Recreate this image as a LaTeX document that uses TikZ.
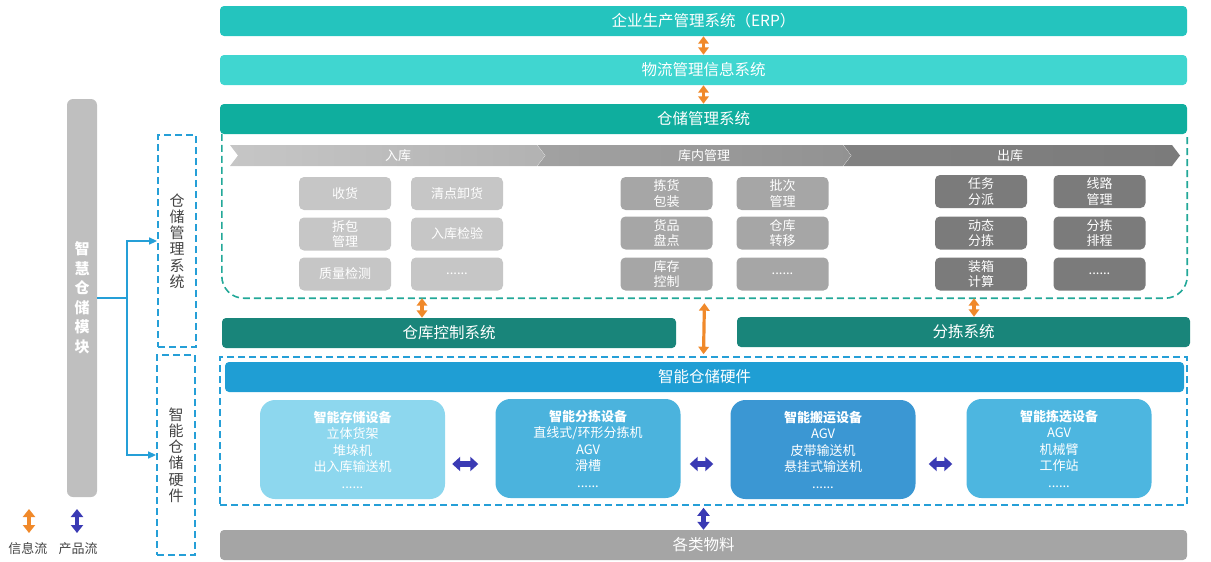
\documentclass[tikz,border=0pt]{standalone}
\usepackage{fontspec}
\setmainfont{Noto Sans CJK SC}
\usetikzlibrary{arrows.meta,calc}
\definecolor{cErp}{HTML}{24C4BE}
\definecolor{cLis}{HTML}{40D6D0}
\definecolor{cWms}{HTML}{0FAE9E}
\definecolor{cCtl}{HTML}{19857A}
\definecolor{cGd}{HTML}{22A898}
\definecolor{cBl}{HTML}{259FD7}
\definecolor{cHw}{HTML}{1F9ED4}
\definecolor{cH1}{HTML}{8DD7EE}
\definecolor{cH2}{HTML}{4BB3DD}
\definecolor{cH3}{HTML}{3B97D3}
\definecolor{cH4}{HTML}{4DB6E0}
\definecolor{cMat}{HTML}{A5A5A5}
\definecolor{cLbar}{HTML}{BFBFBF}
\definecolor{cOr}{HTML}{F0892A}
\definecolor{cInd}{HTML}{3A3AB4}
\definecolor{cS1}{HTML}{C6C6C6}
\definecolor{cS2}{HTML}{A6A6A6}
\definecolor{cS3}{HTML}{7B7B7B}
\definecolor{cTxt}{HTML}{444444}
\newcommand{\fsbar}{\fontsize{15.5}{18}\selectfont}
\newcommand{\fssmall}{\fontsize{13}{15.5}\selectfont}
\newcommand{\fshw}{\fontsize{13}{16.5}\selectfont}
\newcommand{\fsvert}{\fontsize{15}{16.2}\selectfont}
\begin{document}
\begin{tikzpicture}[x=1pt,y=-1pt,
  bar/.style={rectangle, rounded corners=4pt, inner sep=0pt, text=white, font=\fsbar},
  sbox/.style={rectangle, rounded corners=5pt, minimum width=92pt, minimum height=33pt, inner sep=0pt, text=white, align=center, font=\fssmall},
  hwb/.style={rectangle, rounded corners=15pt, minimum width=185pt, minimum height=99pt, inner sep=0pt, text=white, align=center, font=\fshw},
  chevtxt/.style={text=white, font=\fssmall, inner sep=0pt},
  oarr/.style={draw=cOr, line width=3.2pt, {Triangle[width=10.5pt,length=7.5pt]}-{Triangle[width=10.5pt,length=7.5pt]}},
  oleg/.style={draw=cOr, line width=4.5pt, {Triangle[width=12pt,length=8pt]}-{Triangle[width=12pt,length=8pt]}},
  barr/.style={draw=cInd, line width=5.5pt, {Triangle[width=14pt,length=8pt]}-{Triangle[width=14pt,length=8pt]}},
  conn/.style={draw=cBl, line width=1.5pt},
  gdash/.style={draw=cGd, line width=1.6pt, dash pattern=on 7pt off 4pt},
  bdash/.style={draw=cBl, line width=1.6pt, dash pattern=on 7pt off 4pt},
  dbox/.style={rectangle, draw=cBl, line width=1.8pt, dash pattern=on 7pt off 4pt, inner sep=0pt, align=center, text=cTxt, font=\fsvert},
  legtxt/.style={text=cTxt, font=\fssmall, inner sep=0pt}
]
\useasboundingbox (0,0) rectangle (1211,562);

% ---- left side ----
\node[rectangle, rounded corners=6pt, fill=cLbar, minimum width=30pt, minimum height=398pt, inner sep=0pt,
      text=white, align=center, font=\fontsize{15}{19.5}\selectfont\bfseries] (lbar) at (82,298)
      {智\\慧\\仓\\储\\模\\块};
\node[dbox, minimum width=38pt, minimum height=212pt] (dA) at (177,241) {仓\\储\\管\\理\\系\\统};
\node[dbox, minimum width=38pt, minimum height=200pt] (dB) at (176,455) {智\\能\\仓\\储\\硬\\件};
\coordinate (j) at (127,298);
\draw[conn] (lbar.east) -- (j);
\draw[conn, -{Triangle[width=7pt,length=8pt]}] (j) |- (dA.west);
\draw[conn, -{Triangle[width=7pt,length=8pt]}] (j) |- (dB.west);

% legend
\coordinate (lo1) at (29,509); \coordinate (lo2) at (29,533);
\coordinate (lb1) at (77,509); \coordinate (lb2) at (77,533);
\draw[oleg] (lo1) -- (lo2);
\draw[barr, line width=4.5pt, {Triangle[width=12pt,length=8pt]}-{Triangle[width=12pt,length=8pt]}] (lb1) -- (lb2);
\node[legtxt] (lgo) at (28,549) {信息流};
\node[legtxt] (lgb) at (78,549) {产品流};

% ---- WMS dashed area ----
\node[minimum width=965pt, minimum height=164pt, inner sep=0pt] (wmsarea) at (704.5,216) {};
\draw[gdash, rounded corners=22pt] (wmsarea.north west) -- (wmsarea.south west) -- (wmsarea.south east) -- (wmsarea.north east);

% ---- top bars ----
\node[bar, fill=cErp, minimum width=967pt, minimum height=30pt] (erp) at (703.5,21) {企业生产管理系统（ERP）};
\node[bar, fill=cLis, minimum width=967pt, minimum height=30pt] (lis) at (703.5,70) {物流管理信息系统};
\node[bar, fill=cWms, minimum width=967pt, minimum height=30pt] (wms) at (703.5,119) {仓储管理系统};
\draw[oarr] (erp.south) -- (lis.north);
\draw[oarr] (lis.south) -- (wms.north);

% ---- chevrons ----
\shade[left color=cS1, right color=cS1!90!black] (230,145) -- (537,145) -- (545,155.5) -- (537,166) -- (230,166) -- (238,155.5) -- cycle;
\shade[left color=cS2!105, right color=cS2!88!black] (537.5,145) -- (843,145) -- (851,155.5) -- (843,166) -- (537.5,166) -- (545.5,155.5) -- cycle;
\shade[left color=cS3!95!white, right color=cS3] (843.5,145) -- (1172,145) -- (1180,155.5) -- (1172,166) -- (843.5,166) -- (851.5,155.5) -- cycle;
\node[chevtxt] (c1) at (398,155.5) {入库};
\node[chevtxt] (c2) at (704,155.5) {库内管理};
\node[chevtxt] (c3) at (1010,155.5) {出库};

% ---- small boxes ----
\node[sbox, fill=cS1] (a1) at (345,193.5) {收货};
\node[sbox, fill=cS1] (a2) at (457,193.5) {清点卸货};
\node[sbox, fill=cS1] (a3) at (345,234) {拆包\\管理};
\node[sbox, fill=cS1] (a4) at (457,234) {入库检验};
\node[sbox, fill=cS1] (a5) at (345,274) {质量检测};
\node[sbox, fill=cS1] (a6) at (457,274) {......};

\node[sbox, fill=cS2] (b1) at (666.5,193.5) {拣货\\包装};
\node[sbox, fill=cS2] (b2) at (782.5,193.5) {批次\\管理};
\node[sbox, fill=cS2] (b3) at (666.5,233) {货品\\盘点};
\node[sbox, fill=cS2] (b4) at (782.5,233) {仓库\\转移};
\node[sbox, fill=cS2] (b5) at (666.5,274) {库存\\控制};
\node[sbox, fill=cS2] (b6) at (782.5,274) {......};

\node[sbox, fill=cS3] (d1) at (981,191.5) {任务\\分派};
\node[sbox, fill=cS3] (d2) at (1099.5,191.5) {线路\\管理};
\node[sbox, fill=cS3] (d3) at (981,233) {动态\\分拣};
\node[sbox, fill=cS3] (d4) at (1099.5,233) {分拣\\排程};
\node[sbox, fill=cS3] (d5) at (981,274) {装箱\\计算};
\node[sbox, fill=cS3] (d6) at (1099.5,274) {......};

% ---- control systems ----
\node[bar, fill=cCtl, minimum width=454pt, minimum height=30pt] (wcs) at (449,333) {仓库控制系统};
\node[bar, fill=cCtl, minimum width=453pt, minimum height=30pt] (sort) at (963.5,332) {分拣系统};
\coordinate (xa) at (422,0);
\coordinate (xb) at (974,0);
\draw[oarr] (wmsarea.south -| xa) -- (wcs.north -| xa);
\draw[oarr] (wmsarea.south -| xb) -- (sort.north -| xb);

% ---- hardware area ----
\node[bdash, minimum width=967pt, minimum height=148pt, inner sep=0pt] (hwarea) at (703.5,431) {};
\draw[oarr, shorten <=5pt, shorten >=2pt] (wmsarea.south) -- (hwarea.north);
\node[bar, fill=cHw, minimum width=959pt, minimum height=30pt] (hw) at (704.5,377) {智能仓储硬件};

\node[hwb, fill=cH1] (h1) at (352.5,449.5) {\textbf{智能存储设备}\\立体货架\\堆垛机\\出入库输送机\\......};
\node[hwb, fill=cH2] (h2) at (588,448.5) {\textbf{智能分拣设备}\\直线式/环形分拣机\\AGV\\滑槽\\......};
\node[hwb, fill=cH3] (h3) at (823,449.5) {\textbf{智能搬运设备}\\AGV\\皮带输送机\\悬挂式输送机\\......};
\node[hwb, fill=cH4] (h4) at (1059,448.5) {\textbf{智能拣选设备}\\AGV\\机械臂\\工作站\\......};

\coordinate (ya) at (0,464);
\draw[barr, shorten <=7pt, shorten >=17pt] (h1.east |- ya) -- (h2.west |- ya);
\draw[barr, shorten <=9pt, shorten >=17pt] (h2.east |- ya) -- (h3.west |- ya);
\draw[barr, shorten <=13pt, shorten >=14pt] (h3.east |- ya) -- (h4.west |- ya);

% ---- materials ----
\node[bar, fill=cMat, minimum width=967pt, minimum height=30pt] (mat) at (703.5,545) {各类物料};
\draw[barr, line width=4.5pt, {Triangle[width=12pt,length=8pt]}-{Triangle[width=12pt,length=8pt]}, shorten <=2pt] (hwarea.south) -- (mat.north);
\end{tikzpicture}
\end{document}
